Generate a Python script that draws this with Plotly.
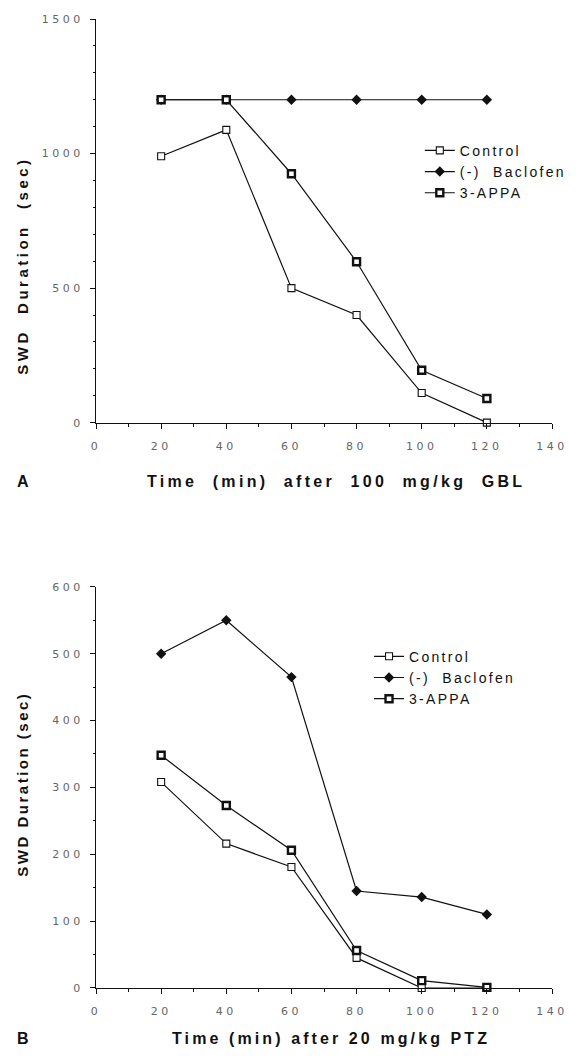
import plotly.graph_objects as go

# ---- data ----
time_min = [20, 40, 60, 80, 100, 120]

# Panel A: after 100 mg/kg GBL
a_control = [990, 1088, 500, 400, 110, 0]
a_baclofen = [1200, 1200, 1200, 1200, 1200, 1200]
a_appa = [1200, 1200, 925, 598, 195, 90]

# Panel B: after 20 mg/kg PTZ
b_control = [308, 216, 181, 45, 0, 0]
b_baclofen = [500, 550, 465, 145, 136, 110]
b_appa = [348, 273, 206, 56, 11, 1]

series_names = ["Control", "(-)  Baclofen", "3-APPA"]
x_ticks = [0, 20, 40, 60, 80, 100, 120, 140]
a_yticks = [0, 500, 1000, 1500]
b_yticks = [0, 100, 200, 300, 400, 500, 600]


def spaced(s, sp):
    return '<span style="letter-spacing:%spx">%s</span>' % (sp, s)


BLACK = "#111111"
styles = [
    dict(symbol="square", size=7, color="white", line=dict(color=BLACK, width=1.1)),
    dict(symbol="diamond", size=8, color=BLACK, line=dict(color=BLACK, width=0)),
    dict(symbol="square", size=7, color="white", line=dict(color=BLACK, width=2.4)),
]

fig = go.Figure()

for xa, ya, leg, sets in [
    ("x", "y", "legend", [a_control, a_baclofen, a_appa]),
    ("x2", "y2", "legend2", [b_control, b_baclofen, b_appa]),
]:
    for name, vals, st in zip(series_names, sets, styles):
        fig.add_trace(go.Scatter(
            x=time_min, y=vals, name=spaced(name, 2.3), mode="lines+markers",
            line=dict(color=BLACK, width=1.2),
            marker=st, xaxis=xa, yaxis=ya, legend=leg,
            cliponaxis=False, showlegend=True,
        ))

tickfont = dict(family="DejaVu Sans", size=11, color="#666666")
TS = 3.5
common_x = dict(
    range=[0, 140], tickmode="array", tickvals=x_ticks,
    ticktext=[spaced(str(v), TS) for v in x_ticks],
    showline=True, linecolor=BLACK, linewidth=1.2, showgrid=False, zeroline=False,
    ticks="outside", ticklen=5, tickwidth=1.2, tickcolor=BLACK,
    tickfont=tickfont, ticklabelstandoff=8,
    minor=dict(dtick=10, tick0=0, ticks="outside", ticklen=3, tickcolor=BLACK, showgrid=False),
)
common_y = dict(
    showline=True, linecolor=BLACK, linewidth=1.2, showgrid=False, zeroline=False,
    ticks="outside", ticklen=5, tickwidth=1.2, tickcolor=BLACK,
    tickfont=tickfont, ticklabelstandoff=4,
)

OFF = 8  # default page body margin
W, H = 569, 1043  # keep the page free of scrollbars
L, R, T, B = 96 - OFF, 5, 17 - OFF, 63
PW, PH = W - L - R, H - T - B


def px(xp):
    return (xp - OFF - L) / PW


def py(yp):
    return (H - B - (yp - OFF)) / PH


fig.update_layout(
    width=W, height=H,
    margin=dict(l=L, r=R, t=T, b=B),
    paper_bgcolor="white", plot_bgcolor="white",
    font=dict(family="Liberation Sans", color=BLACK),
    xaxis=dict(**common_x, domain=[0, 1], anchor="y"),
    yaxis=dict(**common_y, domain=[py(421.5), 1], range=[0, 1500], anchor="x",
               tickvals=a_yticks, ticktext=[spaced(str(v), TS) for v in a_yticks],
               minor=dict(dtick=100, tick0=0, ticks="outside", ticklen=2, tickcolor=BLACK, showgrid=False)),
    xaxis2=dict(**common_x, domain=[0, 1], anchor="y2"),
    yaxis2=dict(**common_y, domain=[0, py(586)], range=[0, 600], anchor="x2",
                tickvals=b_yticks, ticktext=[spaced(str(v), TS) for v in b_yticks],
                minor=dict(dtick=50, tick0=0, ticks="outside", ticklen=2, tickcolor=BLACK, showgrid=False)),
    legend=dict(x=px(434), y=py(133), xanchor="left", yanchor="top",
                font=dict(family="Liberation Sans", size=14, color=BLACK),
                bgcolor="rgba(0,0,0,0)", itemwidth=30, tracegroupgap=0),
    legend2=dict(x=px(381), y=py(640), xanchor="left", yanchor="top",
                 font=dict(family="Liberation Sans", size=14, color=BLACK),
                 bgcolor="rgba(0,0,0,0)", itemwidth=30, tracegroupgap=0),
    showlegend=True,
)

bold = dict(family="Liberation Sans", size=16, color=BLACK)
ybold = dict(family="Liberation Sans", size=15, color=BLACK)
annots = [
    dict(text="<b>" + spaced("Time  (min)  after  100  mg/kg  GBL", 3.3) + "</b>", x=px(347), y=py(480), font=bold),
    dict(text="<b>A</b>", x=px(20), y=py(480), font=bold),
    dict(text="<b>" + spaced("Time (min) after 20 mg/kg PTZ", 3.1) + "</b>", x=px(341), y=py(1039), font=bold),
    dict(text="<b>B</b>", x=px(20), y=py(1039), font=bold),
    dict(text="<b>" + spaced("SWD  Duration  (sec)", 3.5) + "</b>", x=px(19), y=py(264), textangle=-90, font=ybold),
    dict(text="<b>" + spaced("SWD Duration (sec)", 2.5) + "</b>", x=px(19), y=py(784), textangle=-90, font=ybold),
]
for a in annots:
    fig.add_annotation(xref="paper", yref="paper", showarrow=False,
                       xanchor="center", yanchor="middle", **a)

fig.write_html("out.html")
